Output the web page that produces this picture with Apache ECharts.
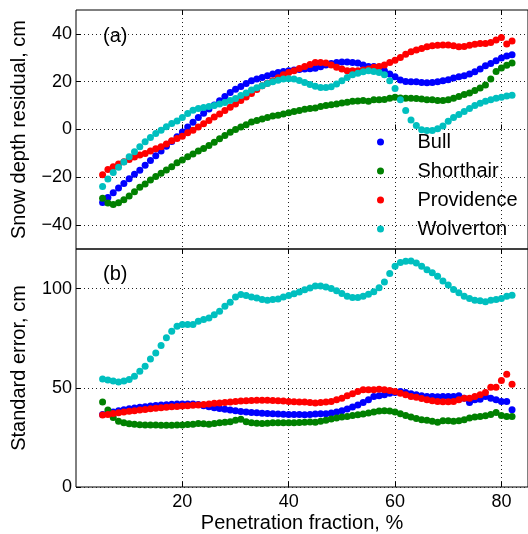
<!DOCTYPE html>
<html>
<head>
<meta charset="utf-8">
<script src="https://cdn.jsdelivr.net/npm/echarts@6/dist/echarts.min.js"></script>
<style>
  html, body { margin: 0; padding: 0; background: #fff; }
  #chart { width: 528px; height: 534px; }
</style>
</head>
<body>
<div id="chart"></div>
<script>
// penetration fraction, %
const fraction = [5, 6, 7, 8, 9, 10, 11, 12, 13, 14, 15, 16, 17, 18, 19, 20, 21, 22, 23, 24,
    25, 26, 27, 28, 29, 30, 31, 32, 33, 34, 35, 36, 37, 38, 39, 40, 41, 42, 43, 44,
    45, 46, 47, 48, 49, 50, 51, 52, 53, 54, 55, 56, 57, 58, 59, 60, 61, 62, 63, 64,
    65, 66, 67, 68, 69, 70, 71, 72, 73, 74, 75, 76, 77, 78, 79, 80, 81, 82]

const siteNames = ['Bull', 'Shorthair', 'Providence', 'Wolverton']
const siteColors = ['#0000ff', '#008000', '#ff0000', '#00bfbf']

// (a) snow depth residual, cm
const bullResidual = [-30.5, -28.5, -26.5, -24.5, -22.6, -20.6, -18.7, -17, -15, -13, -11, -9, -7, -5, -3, -1, 1, 3, 5, 6.8,
    8.6, 10.3, 12, 13.8, 15.5, 16.8, 18, 19.2, 20.4, 21.1, 21.8, 22.5, 23.2, 23.8, 24.3, 24.6, 24.9, 25.1, 25.3, 25.4,
    25.6, 26.3, 27, 27.6, 28, 28.2, 28.2, 28, 27.8, 27, 26.4, 26.4, 26, 24.6, 23.2, 22.1, 20.7, 20.1, 20, 20,
    19.7, 19.6, 19.7, 20, 20.4, 20.8, 21.5, 22.1, 22.5, 23.2, 24.2, 25.3, 26.7, 27.6, 28.8, 29.9, 30.8, 31.3]
const shorthairResidual = [-28.8, -30.8, -31.4, -30.6, -29.4, -27.8, -26, -24.2, -22.8, -21.1, -19.7, -18.3, -16.9, -15.6, -13.9, -12.8, -11.4, -10.3, -9, -8,
    -6.7, -5.3, -3.9, -2.5, -1.1, 0, 1, 2, 3.1, 3.8, 4.4, 5, 5.6, 6, 6.5, 7, 7.5, 8, 8.5, 8.8,
    9, 9.6, 10, 10.4, 10.7, 11.1, 11.4, 11.8, 11.9, 12.1, 11.8, 12.4, 12.5, 12.6, 13.1, 13.5, 13.2, 13.1, 13.1, 13,
    12.8, 12.4, 12.4, 12.1, 12.1, 12.4, 13.1, 13.8, 14.6, 15.3, 16.3, 17.4, 18.6, 21.1, 24.3, 25.7, 26.9, 27.8]
const providenceResidual = [-18.9, -16.7, -15.6, -14.4, -13.5, -12.5, -11.5, -10.7, -10, -9, -8.1, -7.2, -6.1, -4.7, -3.8, -2.8, -1.4, -0.3, 1, 2.4,
    3.8, 5.2, 6.5, 7.9, 9.3, 10.7, 12.1, 13.6, 15.1, 16.7, 18.3, 19.4, 20.4, 21.7, 22.9, 23.8, 24.6, 25.5, 26.4, 27.2,
    28, 28, 27.8, 27, 26, 25.3, 24.6, 24.6, 24.6, 24.9, 25.3, 26, 26.4, 27, 28, 29, 30.1, 31.5, 32.5, 33.3,
    33.9, 34.6, 35, 35.3, 35.4, 35.4, 35, 34.6, 34.7, 35.3, 35.7, 36, 36, 36.4, 37.4, 38.5, 35.8, 37]
const wolvertonResidual = [-23.9, -20.7, -18, -15.8, -13.6, -11.4, -9.3, -7.2, -5.1, -3.3, -1.7, -0.3, 1.1, 2.5, 3.6, 5, 6.7, 8.1, 8.8, 9.2,
    9.6, 10, 10.7, 11.3, 12.1, 13, 14.2, 15.3, 16.5, 17.5, 18.3, 19.2, 20, 20.6, 21.1, 21.2, 21.1, 20.5, 19.7, 18.8,
    18.1, 17.6, 17.6, 17.9, 19, 20.4, 21.8, 22.9, 23.5, 24.2, 24.6, 24.3, 23.9, 22.9, 20.4, 17.2, 12.5, 7.9, 4, 1.7,
    -0.1, -0.4, -0.4, 0.3, 1.5, 3.5, 5, 6.3, 7.5, 8.8, 10, 11, 11.8, 12.5, 13.1, 13.5, 14, 14.3]

// (b) standard error, cm
const bullError = [36.5, 37.2, 37.8, 38.4, 38.9, 39.4, 39.8, 40.2, 40.5, 40.8, 41.1, 41.3, 41.5, 41.7, 41.8, 41.9, 41.9, 41.8, 41.6, 41,
    40.4, 40, 39.6, 39.2, 38.8, 38.4, 38.1, 37.8, 37.6, 37.4, 37.2, 37, 36.9, 36.8, 36.7, 36.6, 36.6, 36.5, 36.4, 36.6,
    36.8, 36.9, 36.9, 37.3, 37.8, 38.4, 39.3, 40.3, 41.3, 42.6, 44, 45.6, 46, 46.5, 47.3, 47.7, 48.2, 47.7, 47, 46.5,
    46, 45.6, 45.6, 45.5, 45.6, 45.6, 45.6, 46, 44.8, 42.6, 44, 44.3, 45.6, 44.8, 44, 43.1, 43.1, 38.9]
const shorthairError = [42.8, 38.8, 35, 33.2, 32.4, 31.9, 31.6, 31.4, 31.3, 31.2, 31.2, 31.1, 31.1, 31.1, 31.2, 31.3, 31.5, 31.7, 32, 31.9,
    31.7, 32, 32.4, 32.7, 32.9, 33.6, 34.1, 32.9, 32.4, 32.2, 32, 32.2, 32.4, 32.4, 32.4, 32.4, 32.4, 32.5, 32.7, 32.8,
    32.6, 33.1, 33.6, 34.3, 34.8, 35.3, 35.6, 36.1, 36.4, 36.8, 37.3, 37.8, 38.3, 38.4, 38.3, 37.8, 36.9, 36.1, 35.3, 34.6,
    33.9, 33.6, 33.1, 32.6, 33.4, 33.4, 33.2, 33.4, 33.9, 34.8, 35.3, 35.6, 35.9, 36.6, 37.6, 36.1, 35.6, 35.6]
const providenceError = [36.3, 36.6, 37, 37.4, 37.8, 38.2, 38.5, 38.8, 39.1, 39.4, 39.7, 40, 40.2, 40.4, 40.6, 40.8, 41, 41.2, 41.3, 41.6,
    41.9, 42.2, 42.4, 42.6, 42.8, 43.1, 43.3, 43.5, 43.6, 43.7, 43.8, 43.7, 43.6, 43.5, 43.3, 43.1, 43, 42.9, 42.8, 42.6,
    42.4, 42.6, 42.8, 43.1, 44, 44.8, 46, 47, 48.2, 49, 49, 49, 49.3, 49, 48.7, 48.2, 47.3, 46.5, 45.6, 45.2,
    44.6, 44, 43.5, 43.1, 43, 43, 43.1, 44, 44.8, 44.8, 45.6, 46.5, 47.7, 50.3, 50.3, 53.7, 56.9, 51.8]
const wolvertonError = [54.5, 53.9, 53.4, 52.9, 53.4, 54.2, 55.9, 58.4, 60.9, 64.6, 67.6, 71.3, 75.2, 78.5, 81, 81.9, 81.9, 81.9, 83.6, 84.4,
    85.2, 86.9, 88.6, 91.1, 93.1, 95.8, 97, 96.5, 95.8, 95.3, 94.5, 94.1, 94.5, 94.8, 95.8, 96.5, 97.5, 98.3, 99.5, 100.3,
    101.3, 101.3, 100.9, 100.1, 98.9, 97.6, 96.2, 95.6, 95.6, 96.2, 97.2, 98.4, 100.4, 103.4, 107.6, 111.3, 113.2, 113.8, 114, 113,
    111.3, 109.6, 108, 106.3, 103.9, 101.8, 99.6, 97.9, 96.2, 95.1, 94.2, 93.9, 93.4, 94.2, 94.6, 95.1, 96.2, 96.7]

const xTicks = [20, 40, 60, 80]
const residualTicks = [-40, -20, 0, 20, 40]
const errorTicks = [0, 50, 100]

const residuals = [bullResidual, shorthairResidual, providenceResidual, wolvertonResidual]
const errors = [bullError, shorthairError, providenceError, wolvertonError]

const FONT = 'Liberation Sans, Arial, Helvetica, sans-serif'
const dotted = { color: '#222', width: 1, type: [1, 3] }

function pairs(values) {
    return values.map((v, i) => [fraction[i], v])
}

function xAxisFor(gridIndex, showLabel) {
    return {
        type: 'value',
        gridIndex: gridIndex,
        min: 0,
        max: 85,
        axisLine: { show: false },
        axisTick: { show: true, inside: true, length: 5, lineStyle: { color: '#000' }, customValues: xTicks },
        axisLabel: { show: showLabel, customValues: xTicks, color: '#000', fontSize: 18, fontFamily: FONT, margin: 6 },
        splitLine: { show: true, lineStyle: dotted }
    }
}

function topAxisFor(gridIndex) {
    return {
        type: 'value',
        gridIndex: gridIndex,
        position: 'top',
        min: 0,
        max: 85,
        axisLine: { show: false },
        axisTick: { show: true, inside: true, length: 5, lineStyle: { color: '#000' }, customValues: xTicks },
        axisLabel: { show: false },
        splitLine: { show: false }
    }
}

const chart = echarts.init(document.getElementById('chart'), null, { renderer: 'canvas' })

const series = []
siteNames.forEach((name, k) => {
    series.push({
        name: name,
        type: 'scatter',
        xAxisIndex: 0,
        yAxisIndex: 0,
        symbol: 'circle',
        symbolSize: 7,
        itemStyle: { color: siteColors[k], opacity: 1 },
        data: pairs(residuals[k])
    })
})
siteNames.forEach((name, k) => {
    series.push({
        name: name,
        type: 'scatter',
        xAxisIndex: 1,
        yAxisIndex: 1,
        symbol: 'circle',
        symbolSize: 7,
        itemStyle: { color: siteColors[k], opacity: 1 },
        data: pairs(errors[k])
    })
})

const option = {
    animation: false,
    backgroundColor: '#fff',
    textStyle: { fontFamily: FONT },
    title: [
        { text: '(a)', left: 98, top: 21, textStyle: { fontSize: 20, fontWeight: 'normal', color: '#000', fontFamily: FONT } },
        { text: '(b)', left: 98, top: 259, textStyle: { fontSize: 20, fontWeight: 'normal', color: '#000', fontFamily: FONT } }
    ],
    legend: {
        data: siteNames,
        orient: 'vertical',
        left: 372,
        top: 127,
        itemWidth: 64,
        itemHeight: 7,
        itemGap: 9,
        selectedMode: false,
        textStyle: { fontSize: 20, color: '#000', fontFamily: FONT }
    },
    grid: [
        { left: 76, top: 10, width: 459, height: 239, show: true, borderColor: '#000', borderWidth: 1, backgroundColor: 'transparent' },
        { left: 76, top: 249, width: 459, height: 239, show: true, borderColor: '#000', borderWidth: 1, backgroundColor: 'transparent' }
    ],
    xAxis: [
        xAxisFor(0, false),
        Object.assign(xAxisFor(1, true), {
            name: 'Penetration fraction, %',
            nameLocation: 'middle',
            nameGap: 26,
            nameTextStyle: { fontSize: 20, color: '#000', fontFamily: FONT }
        }),
        topAxisFor(0),
        topAxisFor(1)
    ],
    yAxis: [
        {
            type: 'value',
            gridIndex: 0,
            min: -50,
            max: 50,
            name: 'Snow depth residual, cm',
            nameLocation: 'middle',
            nameGap: 47,
            nameTextStyle: { fontSize: 20, color: '#000', fontFamily: FONT },
            axisLine: { show: false },
            axisTick: { show: true, inside: true, length: 5, lineStyle: { color: '#000' }, customValues: residualTicks },
            axisLabel: {
                customValues: residualTicks,
                color: '#000',
                fontSize: 18,
                fontFamily: FONT,
                margin: 4,
                formatter: v => (v < 0 ? '\u2212' + Math.abs(v) : String(v))
            },
            splitLine: { show: true, lineStyle: dotted }
        },
        {
            type: 'value',
            gridIndex: 1,
            min: 0,
            max: 120,
            name: 'Standard error, cm',
            nameLocation: 'middle',
            nameGap: 47,
            nameTextStyle: { fontSize: 20, color: '#000', fontFamily: FONT },
            axisLine: { show: false },
            axisTick: { show: true, inside: true, length: 5, lineStyle: { color: '#000' }, customValues: errorTicks },
            axisLabel: { customValues: errorTicks, color: '#000', fontSize: 18, fontFamily: FONT, margin: 4 },
            splitLine: { show: true, lineStyle: dotted }
        }
    ],
    series: series
}

chart.setOption(option)
</script>
</body>
</html>
